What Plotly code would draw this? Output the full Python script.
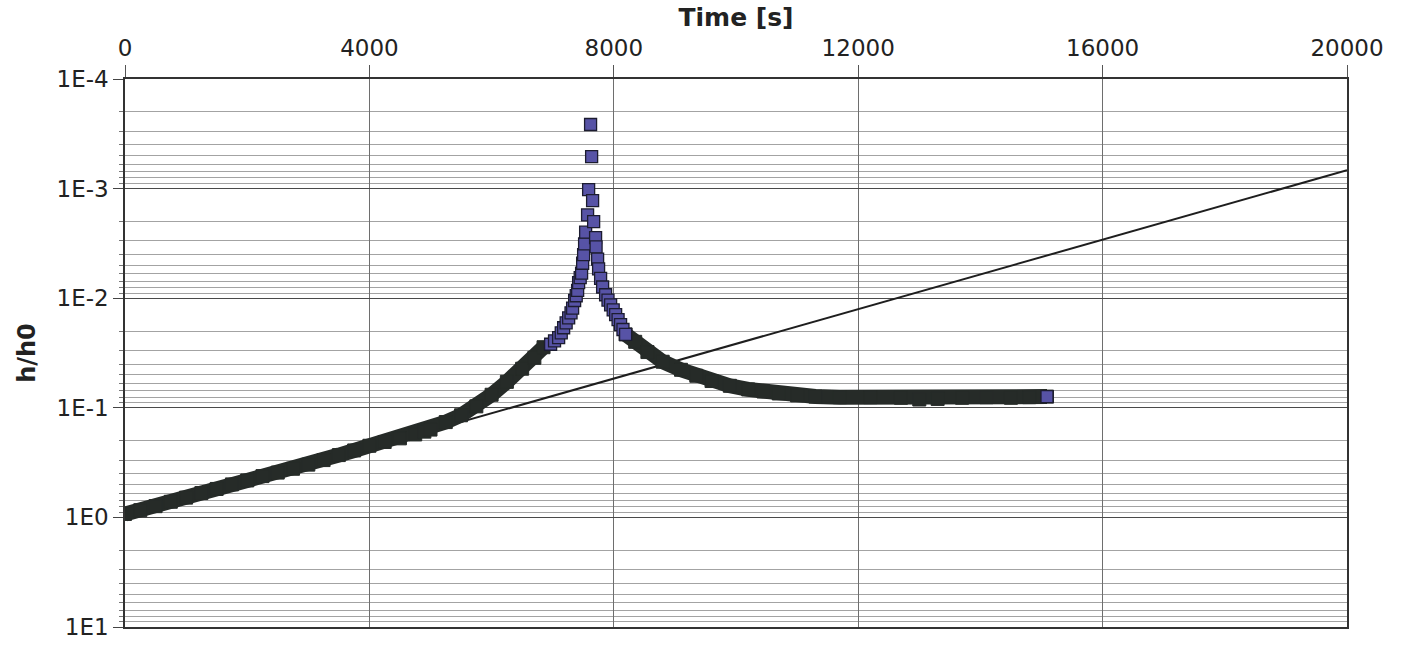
import plotly.graph_objects as go

# ---------------- data ----------------
# reference exponential line
fit_t = [0, 20000]
fit_h = [1.0, 6.8e-4]

# measured h/h0 - dense rising part
rise_t = [0, 250, 500, 750, 1000, 1250, 1500, 1750, 2000, 2250, 2500, 2750, 3000,
          3250, 3500, 3750, 4000, 4250, 4500, 4750, 4900, 5000, 5250, 5500, 5750,
          6000, 6250, 6500, 6700, 6850]
rise_h = [0.93, 0.86, 0.79, 0.72, 0.66, 0.60, 0.55, 0.50, 0.46, 0.42, 0.39, 0.36,
          0.33, 0.30, 0.27, 0.245, 0.222, 0.205, 0.19, 0.175, 0.165, 0.158, 0.135,
          0.117, 0.097, 0.076, 0.058, 0.044, 0.035, 0.028]

# measured h/h0 - sparse points around the peak
peak_t = [6966, 7030, 7097, 7140, 7179, 7220, 7261, 7300, 7326, 7359, 7385, 7408,
          7424, 7450, 7473, 7490, 7506, 7522, 7539, 7571, 7588, 7620, 7637, 7653,
          7670, 7702, 7710, 7735, 7751, 7784, 7817, 7866, 7905, 7948, 7990, 8030,
          8070, 8111, 8150, 8193]
peak_h = [0.0263, 0.0245, 0.0229, 0.0207, 0.0186, 0.0168, 0.0151, 0.0136, 0.0123,
          0.0105, 0.0095, 0.0085, 0.0072, 0.0065, 0.0059, 0.0048, 0.0040, 0.0032,
          0.0025, 0.00174, 0.00102, 0.00026, 0.00051, 0.00129, 0.0020, 0.0028,
          0.0034, 0.0044, 0.0054, 0.0066, 0.0079, 0.0093, 0.0104, 0.0115, 0.0128,
          0.0141, 0.0157, 0.0174, 0.0193, 0.0214]

# measured h/h0 - dense falling part and plateau
fall_t = [8193, 8350, 8550, 8800, 9100, 9350, 9600, 9900, 10200, 10450, 10700, 11000,
          11300, 11700, 12200, 12700, 13000, 13300, 13700, 14100, 14500, 14800, 15090]
fall_h = [0.0214, 0.025, 0.031, 0.038, 0.045, 0.051, 0.057, 0.063, 0.068, 0.071,
          0.074, 0.077, 0.079, 0.080, 0.080, 0.081, 0.084, 0.083, 0.081, 0.080,
          0.081, 0.080, 0.079]

x_ticks = [0, 4000, 8000, 12000, 16000, 20000]
x_ticktext = ["0", "4000", "8000", "12000", "16000", "20000"]
y_ticks = [1e-4, 1e-3, 1e-2, 1e-1, 1e0, 1e1]
y_ticktext = ["1E-4", "1E-3", "1E-2", "1E-1", "1E0", "1E1"]

# ---------------- figure ----------------
BAND = "#262b28"
BLUE = "#5753a6"
FONT = "DejaVu Sans"

minor_vals = [m * 10.0 ** e for e in range(-4, 1) for m in range(2, 10)]

fig = go.Figure()

fig.add_trace(go.Scatter(x=fit_t, y=fit_h, mode="lines",
                         line=dict(color="#1e1e1e", width=2), hoverinfo="skip"))

for tt, hh in ((rise_t, rise_h), (fall_t, fall_h)):
    fig.add_trace(go.Scatter(
        x=tt, y=hh, mode="lines+markers",
        line=dict(color=BAND, width=15),
        marker=dict(symbol="square", size=13, color=BAND,
                    line=dict(color=BAND, width=1))))

fig.add_trace(go.Scatter(
    x=peak_t + fall_t[-1:], y=peak_h + fall_h[-1:], mode="markers",
    marker=dict(symbol="square", size=12, color=BLUE,
                line=dict(color="#1c1c30", width=1.3))))

fig.update_layout(
    width=1405, height=652,
    margin=dict(l=125, r=58, t=79, b=15),
    paper_bgcolor="white", plot_bgcolor="white",
    showlegend=False,
    font=dict(family=FONT, color="#222222"),
)

fig.update_xaxes(
    side="top", range=[0, 20000], tickmode="array", tickvals=x_ticks,
    ticktext=x_ticktext,
    ticks="outside", ticklen=12, tickcolor="#555555", tickwidth=1,
    showgrid=True, gridcolor="#6e6e6e", gridwidth=1,
    showline=True, linecolor="#333333", linewidth=1.5, mirror=True,
    zeroline=False,
    tickfont=dict(family=FONT, size=23, color="#222222"),
    title=dict(text="<b>Time [s]</b>", font=dict(family=FONT, size=25, color="#222222"),
               standoff=1),
)

fig.update_yaxes(
    type="log", range=[1, -4], tickmode="array", tickvals=y_ticks, ticktext=y_ticktext,
    ticks="outside", ticklen=10, tickcolor="#444444", tickwidth=1,
    showgrid=True, gridcolor="#4a4a4a", gridwidth=1,
    showline=True, linecolor="#333333", linewidth=1.5, mirror=True,
    zeroline=False,
    tickfont=dict(family=FONT, size=23, color="#222222"),
    title=dict(text="<b>h/h0</b>", font=dict(family=FONT, size=24, color="#222222"),
               standoff=14),
    minor=dict(tickmode="array", tickvals=minor_vals, ticks="outside", ticklen=4,
               tickcolor="#777777", showgrid=True, gridcolor="#a3a3a3", gridwidth=1),
)

fig.write_html("out.html")
